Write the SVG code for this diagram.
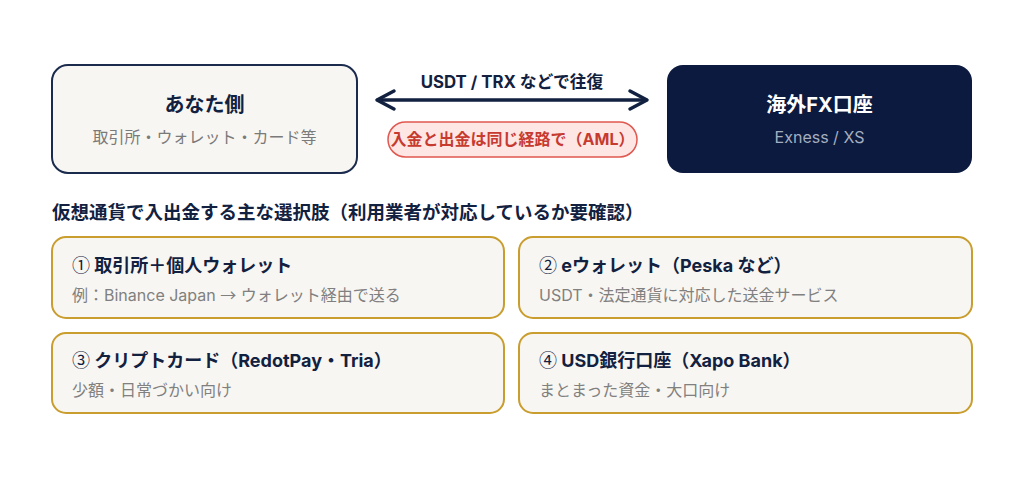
<svg xmlns="http://www.w3.org/2000/svg" width="1024" height="486" viewBox="0 0 1024 486">
<style>
text{font-family:Inter,"Noto Sans CJK JP",sans-serif}
.j{font-family:"Noto Sans CJK JP",sans-serif}
.t{font-weight:700;fill:#12213f}
.s{fill:#7a7a7a}
.opt{fill:#f8f6f2;stroke:#c99d2e;stroke-width:2}
.ot{font-size:18px;font-weight:700;fill:#12213f}
.os{font-size:16px;fill:#808080}
</style>
<rect width="1024" height="486" fill="#ffffff"/>
<g id="you">
<rect x="52" y="65" width="305" height="108" rx="16" fill="#f8f6f2" stroke="#1b2b4d" stroke-width="2"/>
<text x="204.5" y="112" text-anchor="middle" class="t" font-size="20">あなた側</text>
<text x="204.5" y="143" text-anchor="middle" class="s" font-size="16">取引所・ウォレット・カード等</text>
</g>
<g id="fx">
<rect x="667" y="65" width="305" height="108" rx="16" fill="#0b1a3e"/>
<text x="819.5" y="112" text-anchor="middle" font-size="20" font-weight="700" fill="#ffffff">海外FX口座</text>
<text x="819.5" y="143" text-anchor="middle" font-size="16" fill="#a5aec0">Exness / XS</text>
</g>
<g id="connectors" stroke="#12213f" stroke-width="3.5" stroke-linecap="round" stroke-linejoin="round" fill="none">
<line x1="378" y1="100" x2="646" y2="100"/>
<polyline points="394,91 377,100 394,109"/>
<polyline points="630,91 647,100 630,109"/>
</g>
<text x="512" y="88" text-anchor="middle" class="t" font-size="16.8">USDT / TRX などで往復</text>
<g id="aml">
<rect x="388" y="122" width="249" height="35" rx="17.5" fill="#fde6e4" stroke="#e0584f" stroke-width="1.5"/>
<text x="512.5" y="145" text-anchor="middle" font-size="16" font-weight="700" fill="#c63a30">入金と出金は同じ経路で（AML）</text>
</g>
<text x="52" y="219" class="t" font-size="18.5">仮想通貨で入出金する主な選択肢（利用業者が対応しているか要確認）</text>
<g id="opt1">
<rect x="52" y="237" width="452" height="81" rx="14" class="opt"/>
<text x="72" y="272" class="ot"><tspan class="j" font-weight="400">①</tspan> 取引所＋個人ウォレット</text>
<text x="72" y="301" class="os">例：Binance Japan <tspan class="j">→</tspan> ウォレット経由で送る</text>
</g>
<g id="opt2">
<rect x="519" y="237" width="453" height="81" rx="14" class="opt"/>
<text x="539" y="272" class="ot"><tspan class="j" font-weight="400">②</tspan> eウォレット（Peska など）</text>
<text x="539" y="301" class="os">USDT・法定通貨に対応した送金サービス</text>
</g>
<g id="opt3">
<rect x="52" y="333" width="452" height="80" rx="14" class="opt"/>
<text x="72" y="367" class="ot"><tspan class="j" font-weight="400">③</tspan> クリプトカード（RedotPay・Tria）</text>
<text x="72" y="396" class="os">少額・日常づかい向け</text>
</g>
<g id="opt4">
<rect x="519" y="333" width="453" height="80" rx="14" class="opt"/>
<text x="539" y="367" class="ot"><tspan class="j" font-weight="400">④</tspan> USD銀行口座（Xapo Bank）</text>
<text x="539" y="396" class="os">まとまった資金・大口向け</text>
</g>
</svg>
